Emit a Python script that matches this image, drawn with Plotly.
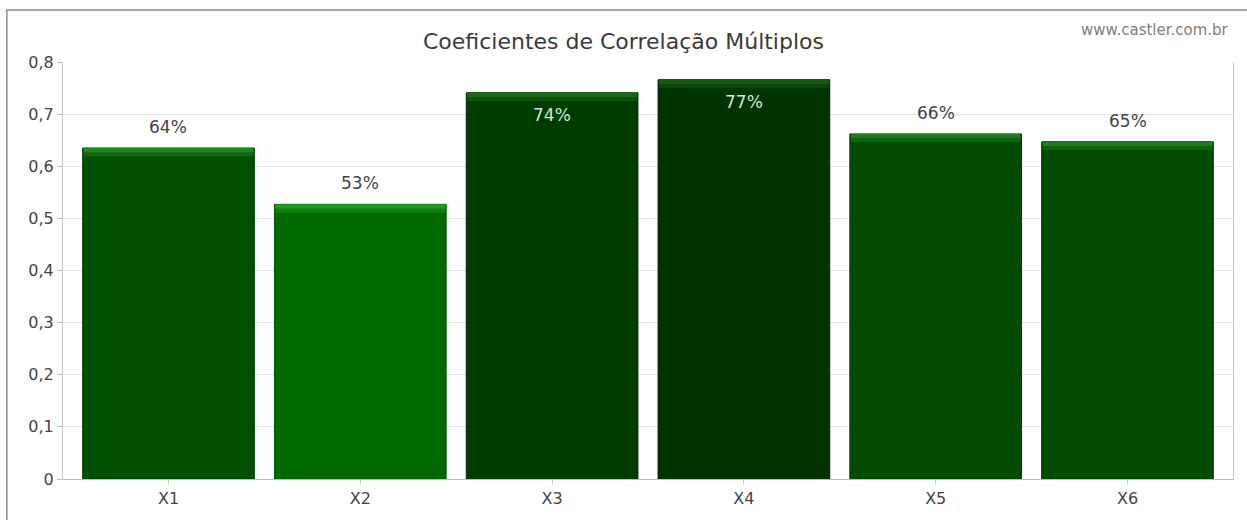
import plotly.graph_objects as go

categories = ["X1", "X2", "X3", "X4", "X5", "X6"]
values = [0.635, 0.527, 0.741, 0.766, 0.662, 0.647]
labels = ["64%", "53%", "74%", "77%", "66%", "65%"]
y_ticks = [0, 0.1, 0.2, 0.3, 0.4, 0.5, 0.6, 0.7, 0.8]
y_tick_text = ["0", "0,1", "0,2", "0,3", "0,4", "0,5", "0,6", "0,7", "0,8"]

bar_colors = ["#005000", "#006a00", "#003c00", "#003300", "#004b00", "#004b00"]
top_colors = ["#1f861f", "#229622", "#1a6a1a", "#165c16", "#1f7c1f", "#1f7c1f"]
mid_colors = ["#0f680f", "#0f800f", "#0c520c", "#0a480a", "#0e640e", "#0e640e"]
edge_colors = ["#003f00", "#005400", "#002e00", "#002600", "#003a00", "#003a00"]
label_inside = [False, False, True, True, False, False]

fig = go.Figure()
fig.add_trace(go.Bar(
    x=categories, y=values,
    marker=dict(color=bar_colors, line=dict(width=1, color=edge_colors)),
    width=0.895, hoverinfo="skip", showlegend=False,
))
stripe = 0.016
fig.add_trace(go.Bar(
    x=categories, y=[stripe] * len(values), base=[v - stripe for v in values],
    marker=dict(color=mid_colors, line=dict(width=0)),
    width=0.885, hoverinfo="skip", showlegend=False,
))
stripe2 = 0.008
fig.add_trace(go.Bar(
    x=categories, y=[stripe2] * len(values), base=[v - stripe2 for v in values],
    marker=dict(color=top_colors, line=dict(width=0)),
    width=0.885, hoverinfo="skip", showlegend=False,
))

for c, v, t, inside in zip(categories, values, labels, label_inside):
    fig.add_annotation(
        x=c, y=v, text=t, showarrow=False,
        yshift=-22 if inside else 21,
        font=dict(size=17, color="#d3e8d3" if inside else "#444444"),
    )

fig.add_annotation(
    xref="paper", yref="paper", x=0.868, y=1.077, xanchor="left", yanchor="middle",
    text="www.castler.com.br", showarrow=False,
    font=dict(size=15, color="#808080"),
)

# outer frame
fig.add_shape(type="rect", xref="paper", yref="paper",
              x0=-0.048, x1=1.05, y0=-0.2, y1=1.125,
              line=dict(color="#8a8a8a", width=1.5), layer="below")

fig.update_layout(
    width=1247, height=520,
    margin=dict(l=63, r=14, t=62, b=41),
    paper_bgcolor="white", plot_bgcolor="white",
    barmode="overlay",
    font=dict(family="DejaVu Sans", color="#444444"),
    title=dict(text="Coeficientes de Correlação Múltiplos", x=0.5, xanchor="center",
               y=0.92, yanchor="middle", font=dict(size=22, color="#3a3a3a")),
    xaxis=dict(range=[-0.55, 5.55], showgrid=False, showline=True, linecolor="#bbbbbb",
               ticks="outside", ticklen=5, tickcolor="#cccccc",
               tickfont=dict(size=16, color="#444444")),
    yaxis=dict(range=[0, 0.8], tickvals=y_ticks, ticktext=y_tick_text,
               showgrid=True, gridcolor="#e2e2e2", zeroline=False,
               showline=True, mirror=True, linecolor="#c8c8c8", ticks="outside", ticklen=5,
               tickcolor="#bbbbbb", tickfont=dict(size=16, color="#444444")),
)

fig.write_html("out.html", config={"displayModeBar": False},
               post_script="document.body.style.margin='0px';")
